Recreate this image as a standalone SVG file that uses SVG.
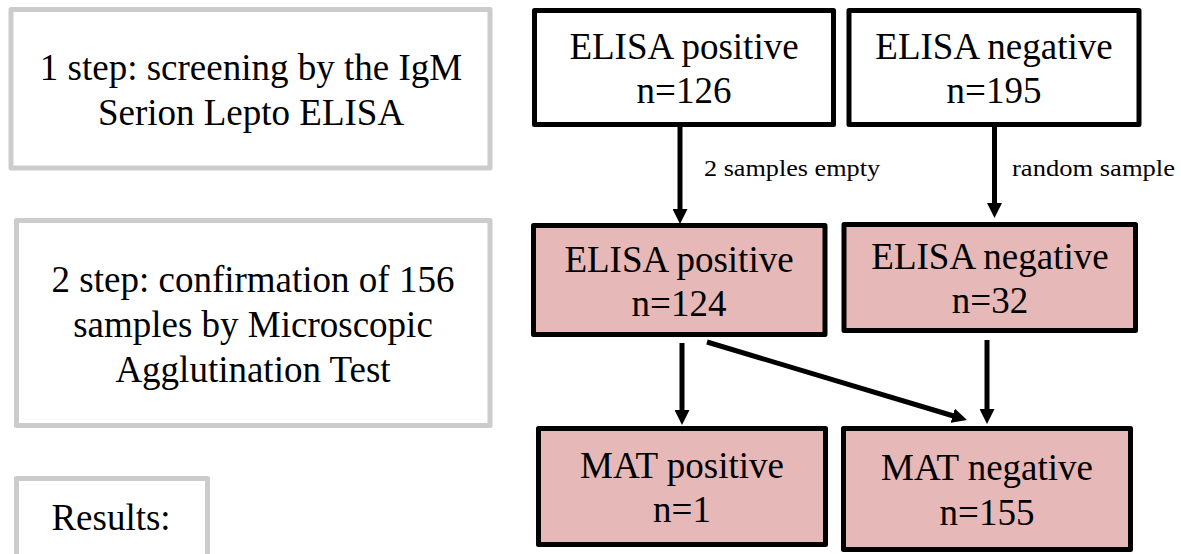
<svg xmlns="http://www.w3.org/2000/svg" width="1181" height="554" viewBox="0 0 1181 554">
<style>
.gbox{fill:#ffffff;stroke:#cccccc;stroke-width:5;stroke-linejoin:round}
.wbox{fill:#ffffff;stroke:#000000;stroke-width:5;stroke-linejoin:round}
.pbox{fill:#e6b8b7;stroke:#000000;stroke-width:5;stroke-linejoin:round}
.t{font-family:"Liberation Serif","Times New Roman",serif;font-size:37px;fill:#000000;text-anchor:middle}
.lbl{font-family:"Liberation Serif","Times New Roman",serif;font-size:23px;fill:#000000}
.c{fill:none;stroke:#000000;stroke-width:5}
</style>
<defs>
<marker id="ah" viewBox="0 0 15 15" refX="1" refY="7.5" markerWidth="15" markerHeight="15" markerUnits="userSpaceOnUse" orient="auto">
<path d="M0,0 L15,7.5 L0,15 z" fill="#000000"/>
</marker>
</defs>
<rect width="1181" height="554" fill="#ffffff"/>
<g id="step1">
<rect class="gbox" x="11" y="9.5" width="479" height="158.5"/>
<text class="t" x="251" y="80">1 step: screening by the IgM</text>
<text class="t" x="251" y="125">Serion Lepto ELISA</text>
</g>
<g id="step2">
<rect class="gbox" x="16.5" y="220.5" width="473.5" height="205"/>
<text class="t" x="253" y="292">2 step: confirmation of 156</text>
<text class="t" x="253" y="337">samples by Microscopic</text>
<text class="t" x="253" y="382">Agglutination Test</text>
</g>
<g id="results">
<rect class="gbox" x="16.5" y="478.5" width="191" height="90"/>
<text class="t" x="111" y="530">Results:</text>
</g>
<g id="elisa-pos-126">
<rect class="wbox" x="534.5" y="10.5" width="299" height="114"/>
<text class="t" x="684" y="59">ELISA positive</text>
<text class="t" x="684" y="103">n=126</text>
</g>
<g id="elisa-neg-195">
<rect class="wbox" x="849" y="10.5" width="290" height="114"/>
<text class="t" x="994" y="59">ELISA negative</text>
<text class="t" x="994" y="103">n=195</text>
</g>
<g id="elisa-pos-124">
<rect class="pbox" x="533.5" y="225.5" width="291.5" height="109"/>
<text class="t" x="679" y="272">ELISA positive</text>
<text class="t" x="679" y="316">n=124</text>
</g>
<g id="elisa-neg-32">
<rect class="pbox" x="844" y="224.5" width="291.5" height="106"/>
<text class="t" x="990" y="269">ELISA negative</text>
<text class="t" x="990" y="313">n=32</text>
</g>
<g id="mat-pos">
<rect class="pbox" x="538.5" y="428.5" width="287" height="116"/>
<text class="t" x="682" y="478">MAT positive</text>
<text class="t" x="682" y="522">n=1</text>
</g>
<g id="mat-neg">
<rect class="pbox" x="843.5" y="428.5" width="287" height="121"/>
<text class="t" x="987" y="480">MAT negative</text>
<text class="t" x="987" y="525">n=155</text>
</g>
<g id="connectors">
<line class="c" x1="680" y1="127" x2="680" y2="210" marker-end="url(#ah)"/>
<text class="lbl" x="704" y="176" textLength="176" lengthAdjust="spacingAndGlyphs">2 samples empty</text>
<line class="c" x1="994.5" y1="127" x2="994.5" y2="204" marker-end="url(#ah)"/>
<text class="lbl" x="1012" y="176" textLength="163" lengthAdjust="spacingAndGlyphs">random sample</text>
<line class="c" x1="682" y1="343" x2="682" y2="411" marker-end="url(#ah)"/>
<line class="c" x1="707" y1="342" x2="953.6" y2="416" marker-end="url(#ah)"/>
<line class="c" x1="987" y1="340" x2="987" y2="410" marker-end="url(#ah)"/>
</g>
</svg>
